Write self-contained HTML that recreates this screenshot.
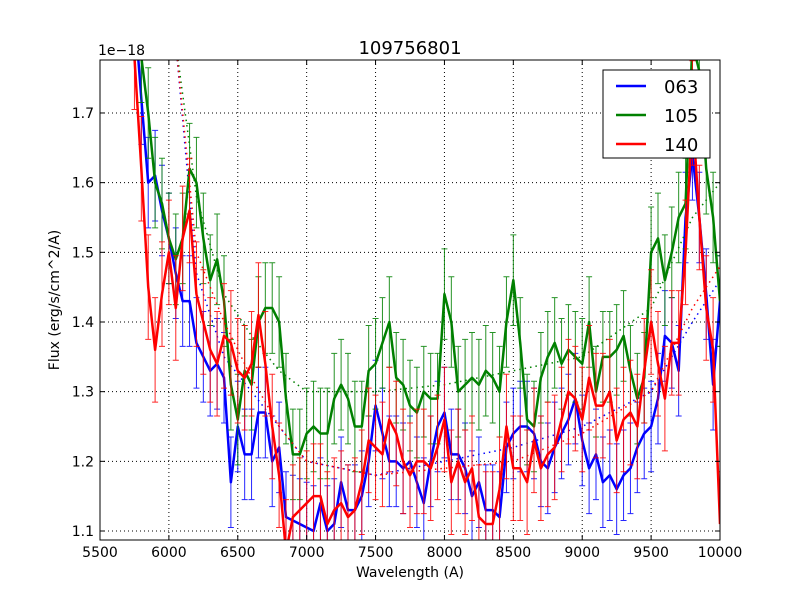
<!DOCTYPE html>
<html><head><meta charset="utf-8"><style>
body{margin:0;background:#fff}
svg text{font-family:"DejaVu Sans","Liberation Sans",sans-serif}
</style></head><body>
<svg id="c" width="800" height="600" xmlns="http://www.w3.org/2000/svg">
<rect width="800" height="600" fill="#fff"/>
<defs><clipPath id="clip"><rect x="100" y="60" width="620" height="480"/></clipPath></defs>
<g id="grid"></g>
<g id="plot" clip-path="url(#clip)"></g>
<rect x="100" y="60" width="620" height="480" fill="none" stroke="#000" stroke-width="1"/>
<g id="ticks"></g>
<text x="410" y="54" font-size="18" text-anchor="middle">109756801</text>
<text x="98" y="55" font-size="14">1e−18</text>
<text x="410" y="577" font-size="14" text-anchor="middle">Wavelength (A)</text>
<text x="59" y="300" font-size="14" text-anchor="middle" transform="rotate(-90 59 300)">Flux (erg/s/cm^2/A)</text>
<g>
<rect x="603" y="70" width="107" height="88" fill="#fff" stroke="#000"/>
<line x1="616" y1="86" x2="646" y2="86" stroke="#0000ff" stroke-width="2.5"/>
<text x="664" y="93" font-size="18">063</text>
<line x1="616" y1="115" x2="646" y2="115" stroke="#008000" stroke-width="2.5"/>
<text x="664" y="122" font-size="18">105</text>
<line x1="616" y1="144" x2="646" y2="144" stroke="#ff0000" stroke-width="2.5"/>
<text x="664" y="151" font-size="18">140</text>
</g>
</svg>
<script>
const waves=[5750,5800,5850,5900,5950,6000,6050,6100,6150,6200,6250,6300,6350,6400,6450,6500,6550,6600,6650,6700,6750,6800,6850,6900,6950,7000,7050,7100,7150,7200,7250,7300,7350,7400,7450,7500,7550,7600,7650,7700,7750,7800,7850,7900,7950,8000,8050,8100,8150,8200,8250,8300,8350,8400,8450,8500,8550,8600,8650,8700,8750,8800,8850,8900,8950,9000,9050,9100,9150,9200,9250,9300,9350,9400,9450,9500,9550,9600,9650,9700,9750,9800,9850,9900,9950,10000];
const blue063=[1.85,1.72,1.60,1.61,1.56,1.52,1.47,1.43,1.43,1.37,1.35,1.33,1.34,1.32,1.17,1.25,1.21,1.21,1.27,1.27,1.20,1.22,1.12,1.115,1.11,1.105,1.10,1.14,1.10,1.11,1.17,1.13,1.13,1.15,1.20,1.28,1.24,1.20,1.20,1.19,1.20,1.17,1.14,1.20,1.25,1.27,1.21,1.21,1.19,1.15,1.17,1.13,1.13,1.12,1.22,1.24,1.25,1.25,1.24,1.20,1.19,1.22,1.24,1.26,1.29,1.23,1.19,1.21,1.17,1.18,1.16,1.18,1.19,1.22,1.24,1.25,1.29,1.38,1.37,1.33,1.55,1.64,1.55,1.44,1.31,1.43];
const green105=[1.85,1.78,1.70,1.60,1.57,1.52,1.49,1.52,1.62,1.60,1.52,1.46,1.49,1.43,1.31,1.26,1.33,1.31,1.40,1.42,1.42,1.40,1.29,1.21,1.21,1.24,1.25,1.24,1.24,1.29,1.31,1.29,1.25,1.25,1.33,1.34,1.37,1.40,1.32,1.31,1.28,1.27,1.30,1.29,1.29,1.44,1.40,1.30,1.31,1.32,1.31,1.33,1.32,1.30,1.40,1.46,1.37,1.26,1.25,1.32,1.35,1.37,1.34,1.36,1.35,1.34,1.40,1.30,1.35,1.35,1.36,1.38,1.33,1.29,1.32,1.50,1.52,1.46,1.50,1.55,1.57,1.80,1.76,1.62,1.55,1.43];
const red140=[1.78,1.62,1.45,1.36,1.44,1.50,1.42,1.52,1.56,1.44,1.40,1.36,1.34,1.38,1.37,1.33,1.32,1.34,1.41,1.34,1.25,1.18,1.07,1.12,1.13,1.14,1.15,1.15,1.11,1.13,1.14,1.12,1.13,1.17,1.23,1.22,1.21,1.26,1.24,1.20,1.18,1.20,1.20,1.19,1.22,1.26,1.17,1.20,1.17,1.19,1.12,1.11,1.11,1.16,1.25,1.19,1.19,1.17,1.23,1.19,1.21,1.22,1.26,1.30,1.29,1.26,1.32,1.28,1.28,1.30,1.23,1.26,1.27,1.25,1.33,1.40,1.34,1.29,1.37,1.37,1.50,1.70,1.55,1.42,1.36,1.11];
const errBlue=0.065, errGreen=0.065, errRed=0.075;
const contWaves=[6050,6200,6400,6600,6800,7000,7500,8000,8500,9000,9500,9800,10000];
const contBlue=[1.80,1.47,1.35,1.30,1.25,1.20,1.18,1.20,1.22,1.25,1.30,1.40,1.46];
const contGreen=[1.80,1.58,1.44,1.38,1.33,1.30,1.30,1.31,1.33,1.35,1.42,1.55,1.60];
const contRed=[1.80,1.50,1.40,1.32,1.25,1.20,1.18,1.19,1.20,1.24,1.30,1.42,1.48];
const xTicks=[5500,6000,6500,7000,7500,8000,8500,9000,9500,10000];
const yTicks=[1.1,1.2,1.3,1.4,1.5,1.6,1.7];
const X=v=>100+(v-5500)*620/4500;
const Y=v=>531-(v-1.1)*696.7;
const NS='http://www.w3.org/2000/svg';
function mk(tag,attrs,parent){const e=document.createElementNS(NS,tag);for(const k in attrs)e.setAttribute(k,attrs[k]);parent.appendChild(e);return e;}
const grid=document.getElementById('grid'),plot=document.getElementById('plot'),ticks=document.getElementById('ticks');
xTicks.forEach(t=>{const x=X(t);
 const g=mk('line',{x1:x,y1:60,x2:x,y2:540,stroke:'#000','stroke-dasharray':'1,3','stroke-width':1},grid);
 
 
 mk('line',{x1:x,y1:540,x2:x,y2:535,stroke:'#000'},ticks);mk('line',{x1:x,y1:60,x2:x,y2:65,stroke:'#000'},ticks);
 const l=mk('text',{x:x,y:557,'font-size':14,'text-anchor':'middle'},ticks);l.textContent=t;
 
 });
yTicks.forEach(t=>{const y=Y(t);
 const g=mk('line',{x1:100,y1:y,x2:720,y2:y,stroke:'#000','stroke-dasharray':'1,3','stroke-width':1},grid);
 
 
 mk('line',{x1:100,y1:y,x2:105,y2:y,stroke:'#000'},ticks);mk('line',{x1:720,y1:y,x2:715,y2:y,stroke:'#000'},ticks);
 const l=mk('text',{x:94,y:y+5,'font-size':14,'text-anchor':'end'},ticks);l.textContent=t.toFixed(1);
 
 });
function series(vals,err,cw,cv,color,name){
 const g=mk('g',{},plot);
 
 
 const c=mk('polyline',{points:cw.map((w,i)=>X(w)+','+Y(cv[i])).join(' '),fill:'none',stroke:color,'stroke-width':1.5,'stroke-dasharray':'1.5,4'},g);
 
 
 vals.forEach((v,i)=>{const x=X(waves[i]);
  const e=mk('path',{d:`M${x},${Y(v-err)}V${Y(v+err)}M${x-3},${Y(v-err)}h6M${x-3},${Y(v+err)}h6`,stroke:color,'stroke-width':1,fill:'none',opacity:0.85},g);
  
  });
 const p=mk('polyline',{points:vals.map((v,i)=>X(waves[i])+','+Y(v)).join(' '),fill:'none',stroke:color,'stroke-width':2.5,'stroke-linejoin':'round'},g);
 
 
}
series(blue063,errBlue,contWaves,contBlue,'#0000ff','063');
series(green105,errGreen,contWaves,contGreen,'#008000','105');
series(red140,errRed,contWaves,contRed,'#ff0000','140');
</script>
</body></html>
